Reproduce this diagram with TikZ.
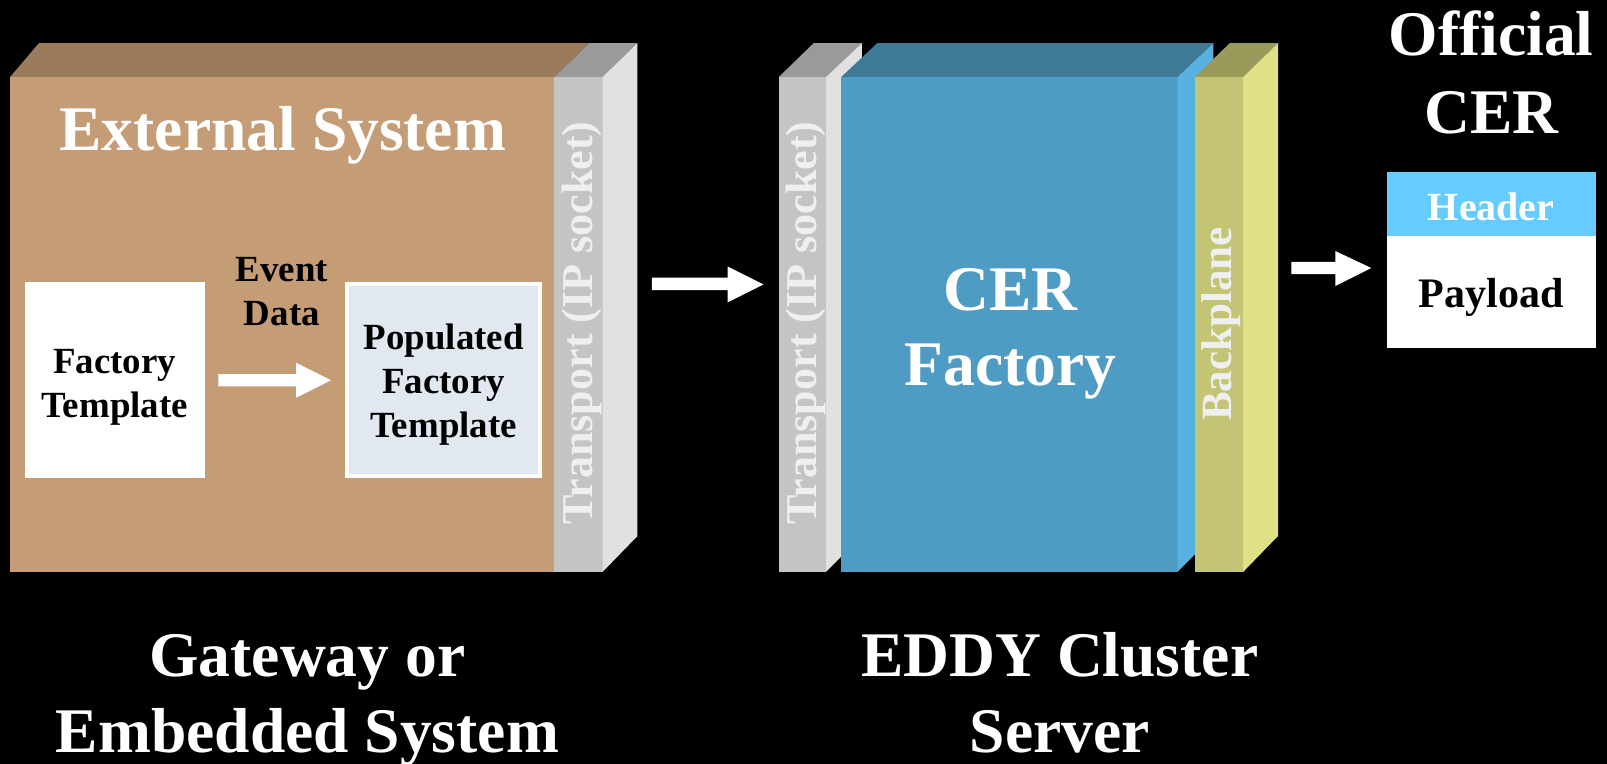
\documentclass[tikz,border=0pt]{standalone}
\usepackage{fontspec}
\setmainfont{Liberation Serif}
\definecolor{brownF}{HTML}{C49C76}
\definecolor{brownT}{HTML}{9A7B5C}
\definecolor{grayF}{HTML}{C4C4C4}
\definecolor{grayT}{HTML}{9A9A9A}
\definecolor{grayS}{HTML}{E1E1E1}
\definecolor{blueF}{HTML}{4E9BC4}
\definecolor{blueT}{HTML}{3E7995}
\definecolor{blueS}{HTML}{58B1DE}
\definecolor{yelF}{HTML}{C4C475}
\definecolor{yelT}{HTML}{9A9A5B}
\definecolor{yelS}{HTML}{E0E087}
\definecolor{hdr}{HTML}{66CCFF}
\definecolor{popF}{HTML}{E1E8F0}
\definecolor{slabtxt}{HTML}{EFEFEF}
\begin{document}
\begin{tikzpicture}[x=1pt,y=-1pt,
  lbl/.style={inner sep=0pt, anchor=base, font=\fontsize{#1}{#1}\selectfont\bfseries},
  big/.style={lbl=62, text=white},
  small/.style={lbl=36, text=black},
  slab/.style={lbl=#1, text=slabtxt, rotate=90},
  blockarrow/.style={fill=white}]
% canvas
\fill[black] (0,0) rectangle (1568,745);
\useasboundingbox (0,0) rectangle (1568,745);

% ---- gateway: external system block with transport slab
\fill[brownT] (10,75) -- (38,42) -- (575,42) -- (541,75) -- cycle;
\fill[brownF] (10,75) rectangle (541,558);
\fill[grayT] (541,75) -- (575,42) -- (622,42) -- (588,75) -- cycle;
\fill[grayF] (541,75) rectangle (588,558);
\fill[grayS] (588,75) -- (622,42) -- (622,523) -- (588,558) -- cycle;

\node[big] (ext) at (276,147) {External System};

\node[draw=none, fill=white, minimum width=176pt, minimum height=191pt, inner sep=0pt]
  (tmpl) at (112,370.5) {};
\node[small] (tmplA) at (112,364) {Factory};
\node[small] (tmplB) at (112,407) {Template};

\node[fill=popF, draw=white, line width=4pt, minimum width=188pt, minimum height=187pt, inner sep=0pt]
  (pop) at (433,370.5) {};
\node[small] (popA) at (433,341) {Populated};
\node[small] (popB) at (433,384) {Factory};
\node[small] (popC) at (433,427) {Template};

\node[small] (evA) at (275,275) {Event};
\node[small] (evB) at (275,318) {Data};

\fill[blockarrow] (213,365) -- (289,365) -- (289,354) -- (323,371)
  -- (289,388) -- (289,377) -- (213,377) -- cycle;

\node[slab=43] (tr1) at (578,315) {Transport (IP socket)};

% ---- arrow to cluster server
\fill[blockarrow] (636,271) -- (710,271) -- (710,260) -- (745,277.5)
  -- (710,295) -- (710,283) -- (636,283) -- cycle;

% ---- EDDY cluster server
\fill[grayT] (760,75) -- (794,42) -- (841,42) -- (806,75) -- cycle;
\fill[grayS] (806,75) -- (841,42) -- (841,523) -- (806,558) -- cycle;
\fill[grayF] (760,75) rectangle (806,558);
\node[slab=43] (tr2) at (797,315) {Transport (IP socket)};

\fill[blueT] (821,75) -- (856,42) -- (1184,42) -- (1149,75) -- cycle;
\fill[blueF] (821,75) rectangle (1149,558);
\fill[blueS] (1149,75) -- (1184,42) -- (1184,523) -- (1149,558) -- cycle;
\node[big] (cerA) at (986,303) {CER};
\node[big] (cerB) at (986,376) {Factory};

\fill[yelT] (1166,75) -- (1200,42) -- (1247,42) -- (1213,75) -- cycle;
\fill[yelF] (1166,75) rectangle (1213,558);
\fill[yelS] (1213,75) -- (1247,42) -- (1247,523) -- (1213,558) -- cycle;
\node[slab=42] (bp) at (1202,316) {Backplane};

% ---- arrow to official CER
\fill[blockarrow] (1260,255.5) -- (1303,255.5) -- (1303,245) -- (1338,261.5)
  -- (1303,279) -- (1303,267.5) -- (1260,267.5) -- cycle;

% ---- official CER record
\node[lbl=62, text=white] (offA) at (1455,54) {Official};
\node[lbl=62, text=white] (offB) at (1455,130) {CER};
\node[fill=hdr, minimum width=204pt, minimum height=62pt, inner sep=0pt] (hdrbox) at (1455,199) {};
\node[fill=white, minimum width=204pt, minimum height=110pt, inner sep=0pt] (paybox) at (1455,285) {};
\node[lbl=39, text=white] (hdrtxt) at (1455,215) {Header};
\node[lbl=41, text=black] (paytxt) at (1455,300) {Payload};

% ---- captions
\node[big] (capA1) at (300,660) {Gateway or};
\node[big] (capA2) at (300,734) {Embedded System};
\node[big] (capB1) at (1034,660) {EDDY Cluster};
\node[big] (capB2) at (1034,734) {Server};
\end{tikzpicture}
\end{document}
